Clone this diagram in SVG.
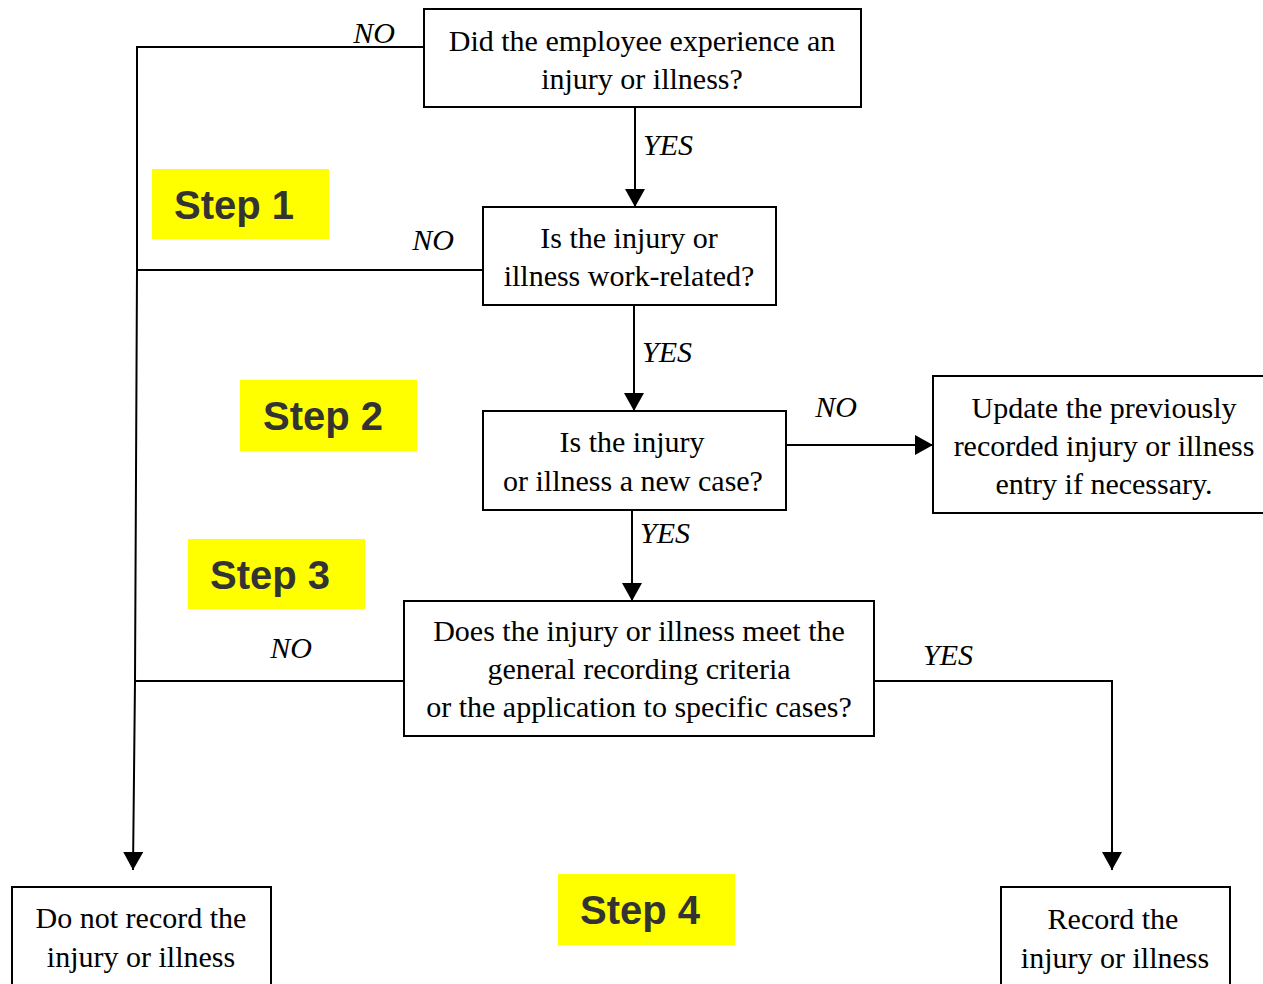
<svg xmlns="http://www.w3.org/2000/svg" width="1263" height="984" viewBox="0 0 1263 984">
<style>
.box{fill:#fff;stroke:#000;stroke-width:2}
.t{font-family:"Liberation Serif","Times New Roman",serif;font-size:30px;fill:#000;text-anchor:middle}
.lbl{font-family:"Liberation Serif","Times New Roman",serif;font-size:30px;font-style:italic;fill:#000;text-anchor:middle}
.step{fill:#ffff00}
.st{font-family:"Liberation Sans",Arial,sans-serif;font-size:40px;font-weight:bold;fill:#333;text-anchor:middle}
.c{fill:none;stroke:#000;stroke-width:2}
</style>
<defs>
<marker id="ah" markerUnits="userSpaceOnUse" markerWidth="18" markerHeight="20" refX="18" refY="10" orient="auto" viewBox="0 0 18 20">
<path d="M0,0 L18,10 L0,20 z" fill="#000"/>
</marker>
</defs>
<rect width="1263" height="984" fill="#fff"/>
<g id="connectors">
<polyline class="c" points="424,47 137,47 137,270 135,681 133,870" marker-end="url(#ah)"/>
<line class="c" x1="483" y1="270" x2="137" y2="270"/>
<line class="c" x1="404" y1="681" x2="135" y2="681"/>
<line class="c" x1="635" y1="107" x2="635" y2="207" marker-end="url(#ah)"/>
<line class="c" x1="634" y1="305" x2="634" y2="411" marker-end="url(#ah)"/>
<line class="c" x1="632" y1="510" x2="632" y2="601" marker-end="url(#ah)"/>
<line class="c" x1="786" y1="445" x2="933" y2="445" marker-end="url(#ah)"/>
<polyline class="c" points="874,681 1112,681 1112,870" marker-end="url(#ah)"/>
<text class="lbl" x="374" y="43">NO</text>
<text class="lbl" x="668" y="155">YES</text>
<text class="lbl" x="433" y="250">NO</text>
<text class="lbl" x="667" y="362">YES</text>
<text class="lbl" x="836" y="417">NO</text>
<text class="lbl" x="665" y="543">YES</text>
<text class="lbl" x="291" y="658">NO</text>
<text class="lbl" x="948" y="665">YES</text>
</g>
<g id="n1">
<rect class="box" x="424" y="9" width="437" height="98"/>
<text class="t" x="642" y="51">Did the employee experience an</text>
<text class="t" x="642" y="89">injury or illness?</text>
</g>
<g id="n2">
<rect class="box" x="483" y="207" width="293" height="98"/>
<text class="t" x="629" y="248">Is the injury or</text>
<text class="t" x="629" y="286">illness work-related?</text>
</g>
<g id="n3">
<rect class="box" x="483" y="411" width="303" height="99"/>
<text class="t" x="632" y="452">Is the injury</text>
<text class="t" x="633" y="491">or illness a new case?</text>
</g>
<g id="n4">
<rect class="box" x="933" y="376" width="345" height="137"/>
<text class="t" x="1104" y="418">Update the previously</text>
<text class="t" x="1104" y="456">recorded injury or illness</text>
<text class="t" x="1104" y="494">entry if necessary.</text>
</g>
<g id="n5">
<rect class="box" x="404" y="601" width="470" height="135"/>
<text class="t" x="639" y="641">Does the injury or illness meet the</text>
<text class="t" x="639" y="679">general recording criteria</text>
<text class="t" x="639" y="717">or the application to specific cases?</text>
</g>
<g id="n6">
<rect class="box" x="12" y="887" width="259" height="120"/>
<text class="t" x="141" y="928">Do not record the</text>
<text class="t" x="141" y="967">injury or illness</text>
</g>
<g id="n7">
<rect class="box" x="1001" y="887" width="229" height="120"/>
<text class="t" x="1113" y="929">Record the</text>
<text class="t" x="1115" y="968">injury or illness</text>
</g>
<g id="step1">
<rect class="step" x="152" y="169" width="177" height="70"/>
<text class="st" x="234" y="219">Step 1</text>
</g>
<g id="step2">
<rect class="step" x="240" y="380" width="177" height="71"/>
<text class="st" x="323" y="430">Step 2</text>
</g>
<g id="step3">
<rect class="step" x="188" y="539" width="177" height="70"/>
<text class="st" x="270" y="589">Step 3</text>
</g>
<g id="step4">
<rect class="step" x="558" y="874" width="177" height="71"/>
<text class="st" x="640" y="924">Step 4</text>
</g>
</svg>
